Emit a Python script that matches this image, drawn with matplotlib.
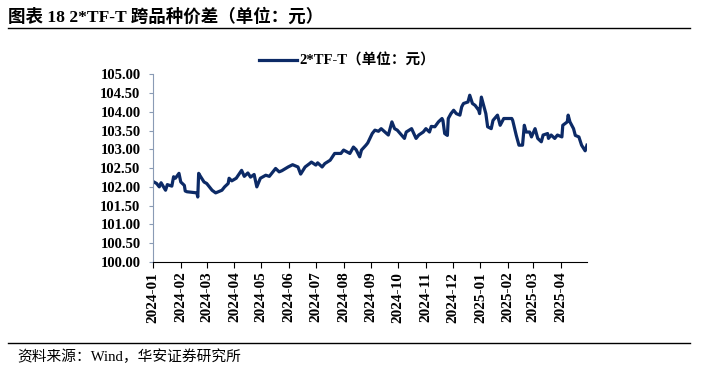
import pandas as pd
import matplotlib.dates as mdates
from matplotlib import pyplot as plt

# 2*TF-T spread
dates = [
    "2024-01-02", "2024-01-05", "2024-01-08", "2024-01-10", "2024-01-15", "2024-01-17",
    "2024-01-22", "2024-01-24", "2024-01-26", "2024-01-30", "2024-02-01", "2024-02-05",
    "2024-02-06", "2024-02-08", "2024-02-19", "2024-02-20", "2024-02-21", "2024-02-23",
    "2024-02-27", "2024-03-01", "2024-03-04", "2024-03-07", "2024-03-11", "2024-03-18",
    "2024-03-21", "2024-03-25", "2024-03-26", "2024-03-29", "2024-04-03", "2024-04-09",
    "2024-04-12", "2024-04-16", "2024-04-19", "2024-04-23", "2024-04-26", "2024-04-30",
    "2024-05-06", "2024-05-10", "2024-05-17", "2024-05-21", "2024-05-24", "2024-05-31",
    "2024-06-05", "2024-06-11", "2024-06-14", "2024-06-19", "2024-06-24", "2024-06-26",
    "2024-07-01", "2024-07-03", "2024-07-08", "2024-07-11", "2024-07-17", "2024-07-22",
    "2024-07-29", "2024-08-01", "2024-08-05", "2024-08-08", "2024-08-12", "2024-08-15",
    "2024-08-19", "2024-08-21", "2024-08-26", "2024-08-28", "2024-09-02", "2024-09-05",
    "2024-09-09", "2024-09-12", "2024-09-18", "2024-09-20", "2024-09-24", "2024-09-27",
    "2024-09-30", "2024-10-08", "2024-10-10", "2024-10-16", "2024-10-21", "2024-10-24",
    "2024-10-29", "2024-11-01", "2024-11-05", "2024-11-07", "2024-11-11", "2024-11-15",
    "2024-11-19", "2024-11-20", "2024-11-22", "2024-11-25", "2024-11-26", "2024-11-29",
    "2024-12-02", "2024-12-05", "2024-12-09", "2024-12-11", "2024-12-13", "2024-12-18",
    "2024-12-20", "2024-12-23", "2024-12-26", "2024-12-30", "2024-12-31", "2025-01-02",
    "2025-01-03", "2025-01-07", "2025-01-09", "2025-01-13", "2025-01-15", "2025-01-20",
    "2025-01-23", "2025-01-27", "2025-02-05", "2025-02-06", "2025-02-10", "2025-02-13",
    "2025-02-17", "2025-02-19", "2025-02-21", "2025-02-25", "2025-02-27", "2025-03-03",
    "2025-03-06", "2025-03-10", "2025-03-12", "2025-03-17", "2025-03-18", "2025-03-21",
    "2025-03-25", "2025-03-28", "2025-04-02", "2025-04-03", "2025-04-08", "2025-04-09",
    "2025-04-11", "2025-04-15", "2025-04-17", "2025-04-21", "2025-04-24", "2025-04-28",
    "2025-04-30",
]
spread = [
    102.13, 102.09, 102.00, 102.11, 101.91, 102.06,
    102.02, 102.27, 102.23, 102.36, 102.13, 102.04,
    101.89, 101.87, 101.84, 101.73, 102.36, 102.28,
    102.13, 102.09, 102.00, 101.91, 101.84, 101.91,
    102.00, 102.09, 102.23, 102.16, 102.23, 102.44,
    102.28, 102.37, 102.26, 102.33, 102.00, 102.23,
    102.31, 102.28, 102.49, 102.40, 102.43, 102.53,
    102.59, 102.53, 102.34, 102.53, 102.62, 102.66,
    102.58, 102.64, 102.53, 102.62, 102.71, 102.89,
    102.89, 102.98, 102.93, 102.89, 103.06, 102.99,
    102.80, 102.98, 103.11, 103.17, 103.42, 103.51,
    103.48, 103.55, 103.42, 103.38, 103.73, 103.55,
    103.51, 103.29, 103.46, 103.55, 103.29, 103.38,
    103.46, 103.55, 103.46, 103.61, 103.60, 103.73,
    103.82, 103.77, 103.42, 103.37, 103.82, 103.95,
    104.04, 103.95, 103.91, 104.13, 104.22, 104.26,
    104.44, 104.22, 104.17, 104.04, 103.95, 104.39,
    104.30, 103.95, 103.60, 103.55, 103.77, 103.91,
    103.64, 103.82, 103.82, 103.77, 103.37, 103.11,
    103.11, 103.64, 103.46, 103.46, 103.33, 103.55,
    103.29, 103.20, 103.38, 103.42, 103.29, 103.38,
    103.29, 103.38, 103.33, 103.64, 103.73, 103.91,
    103.73, 103.55, 103.37, 103.33, 103.11, 102.96,
    103.11,
]
y_ticks = [100.0, 100.5, 101.0, 101.5, 102.0, 102.5, 103.0, 103.5, 104.0, 104.5, 105.0]

fonts = ["Liberation Serif", "Noto Sans CJK SC"]
navy = "#0c2a66"

fig = plt.figure(figsize=(7.01, 3.73), dpi=100)

# header and footer
fig.text(0.012, 0.955, "图表 18 2*TF-T 跨品种价差（单位：元）", family=fonts,
         fontsize=12.6, fontweight="bold", va="center", ha="left")
fig.add_artist(plt.Line2D([0.012, 0.985], [0.925, 0.925], color="black", lw=1.0))
fig.add_artist(plt.Line2D([0.012, 0.985], [0.081, 0.081], color="black", lw=1.0))
fig.text(0.024, 0.043, "资料来源：Wind，华安证券研究所", family=fonts,
         fontsize=10.6, va="center", ha="left")

ax = fig.add_axes([0.2183, 0.2976, 0.619, 0.5035])
x = pd.to_datetime(dates)
ax.plot(x, spread, color=navy, lw=2.3, label="2*TF-T（单位：元）")

ax.set_xlim(pd.Timestamp("2024-01-01"), pd.Timestamp("2025-04-30"))
ax.set_ylim(100, 105)
ax.set_yticks(y_ticks)
ax.yaxis.set_major_formatter(plt.FormatStrFormatter("%.2f"))
ax.xaxis.set_major_locator(mdates.MonthLocator())
ax.xaxis.set_major_formatter(mdates.DateFormatter("%Y-%m"))

for s in ["top", "right"]:
    ax.spines[s].set_visible(False)
ax.spines["left"].set_color("#8a9bb5")
ax.spines["bottom"].set_color("black")
ax.tick_params(axis="y", direction="out", length=3, color="#8a9bb5", pad=6)
ax.tick_params(axis="x", direction="out", length=4, color="black", pad=3)
for lab in ax.get_yticklabels():
    lab.set_fontfamily(fonts)
    lab.set_fontweight("bold")
    lab.set_fontsize(10.5)
for lab in ax.get_xticklabels():
    lab.set_fontfamily(fonts)
    lab.set_fontweight("bold")
    lab.set_fontsize(11)
    lab.set_rotation(90)

ax.legend(loc="center", bbox_to_anchor=(0.495, 0.837), bbox_transform=fig.transFigure,
          frameon=False, handlelength=2.6, handletextpad=0.2,
          prop={"family": fonts, "weight": "bold", "size": 10.5})

plt.savefig("out.png", dpi=100)
